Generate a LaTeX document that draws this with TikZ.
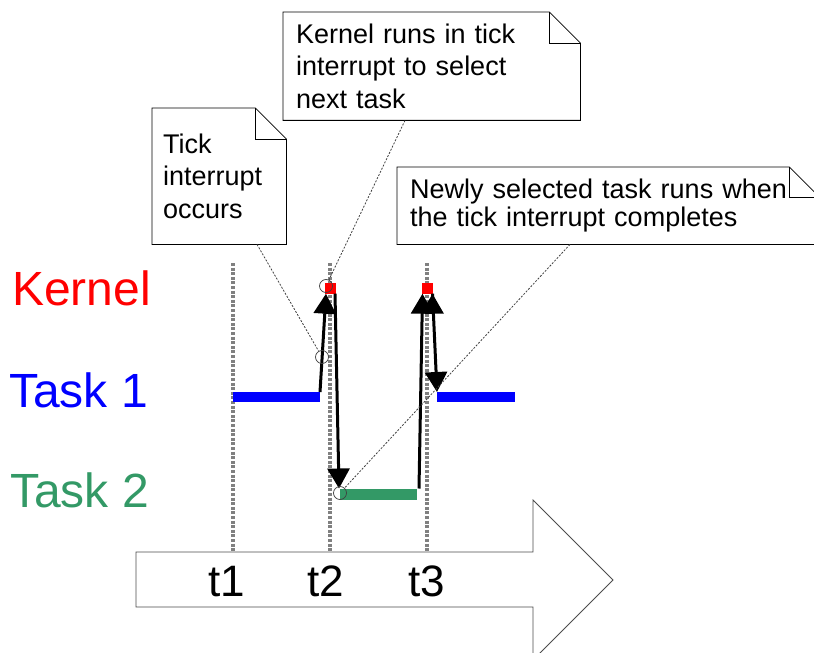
\documentclass[tikz,border=0pt]{standalone}
\usepackage{fontspec}
\setmainfont{Liberation Sans}
\usetikzlibrary{arrows.meta}

\definecolor{kernred}{RGB}{255,0,0}
\definecolor{taskblue}{RGB}{0,0,255}
\definecolor{taskgreen}{RGB}{51,153,102}
\definecolor{tickgray}{RGB}{128,128,128}

\tikzset{
  lane/.style={anchor=base west,inner sep=0pt,font=\fontsize{48bp}{56bp}\selectfont},
  tlabel/.style={anchor=base,inner sep=0pt,font=\fontsize{44bp}{52bp}\selectfont},
  note/.style={anchor=north west,align=left,inner xsep=13bp,inner ysep=0pt,
    font=\fontsize{27bp}{32.5bp}\selectfont},
  tickline/.style={draw=tickgray,line width=3.5bp,dash pattern=on 3bp off 1.6bp},
  run/.style={line width=10bp},
  jump/.style={line width=3bp,-{Triangle[length=20bp,width=22bp]}},
  kbox/.style={fill=kernred,minimum size=11bp,inner sep=0pt},
  hit/.style={circle,draw=black!75,line width=0.7bp,minimum size=13bp,inner sep=0pt},
  pin/.style={draw=black!75,line width=0.8bp,dash pattern=on 2bp off 1.5bp}
}

\begin{document}
\begin{tikzpicture}[x=1bp,y=-1bp]
  \useasboundingbox (0,0) rectangle (814,653);

  % lanes
  \node[lane,text=kernred] (kernel) at (12,305) {Kernel};
  \node[lane,text=taskblue] (task1) at (9,407) {Task 1};
  \node[lane,text=taskgreen] (task2) at (10,507) {Task 2};

  % tick lines
  \foreach \x in {233,330,427}
    \draw[tickline] (\x,263) -- (\x,552);

  % time axis
  \draw[draw=black!70,fill=white,line width=0.8bp]
    (136,552) -- (533,552) -- (533,500) -- (613,580) -- (533,660)
    -- (533,607) -- (136,607) -- cycle;
  \node[tlabel] (t1) at (227,596) {t1};
  \node[tlabel] (t2) at (326,596) {t2};
  \node[tlabel] (t3) at (426.5,596) {t3};

  % runs
  \coordinate (b1s) at (233,397);
  \coordinate (b1e) at (320,397);
  \coordinate (b2s) at (437,397);
  \coordinate (b2e) at (515,397);
  \coordinate (g1s) at (340,494);
  \coordinate (g1e) at (417,494);
  \draw[run,taskblue] (b1s) -- (b1e);
  \draw[run,taskblue] (b2s) -- (b2e);
  \draw[run,line width=11bp,taskgreen] (g1s) -- (g1e);

  \node[kbox] (k1) at (330,288) {};
  \node[kbox] (k2) at (427.5,288) {};

  \path[jump,draw]
  ([yshift=5bp]b1e) edge ([xshift=-4bp]k1.south)
  ([xshift=5bp]k1.south) edge ([xshift=-1bp,yshift=5.5bp]g1s)
  ([xshift=2bp,yshift=5.5bp]g1e) edge ([xshift=-5bp]k2.south)
  ([xshift=5bp]k2.south) edge ([yshift=5bp]b2s);

  % markers
  \node[hit] (hit1) at (322,357) {};
  \node[hit] (hit2) at (326,286) {};
  \node[hit] (hit3) at (340,493) {};

  % notes
  \node[note,text width=112bp,inner xsep=11bp,minimum height=136bp]
    (ticknote) at (152,108) {Tick\\interrupt\\occurs};
  \node[note,text width=271bp,minimum height=108bp]
    (kernnote) at (283,12) {Kernel runs in tick\\interrupt to select\\next task};
  \node[note,text width=396bp,minimum height=77bp,font=\fontsize{27bp}{28bp}\selectfont]
    (newnote) at (397,167) {Newly selected task runs when\\the tick interrupt completes};

  \foreach \n/\f in {ticknote/31,kernnote/31,newnote/30} {
    \draw[line width=0.8bp] (\n.north west) -- ([xshift=-\f bp]\n.north east)
      -- ([yshift=-\f bp]\n.north east) -- (\n.south east) -- (\n.south west) -- cycle;
    \draw[line width=0.8bp] ([xshift=-\f bp]\n.north east) |- ([yshift=-\f bp]\n.north east);
  }

  \draw[pin] ([xshift=105bp]ticknote.south west) -- (hit1);
  \draw[pin] ([xshift=122bp]kernnote.south west) -- (hit2);
  \draw[pin] ([xshift=173bp]newnote.south west) -- (hit3);
\end{tikzpicture}
\end{document}
